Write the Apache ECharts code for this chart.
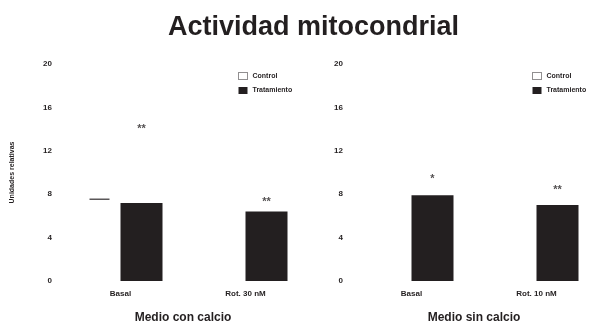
<!DOCTYPE html>
<html>
<head>
<meta charset="utf-8">
<script src="https://cdn.jsdelivr.net/npm/echarts@6/dist/echarts.min.js"></script>
<style>
  html, body { margin: 0; padding: 0; background: #fff; }
  #chart { width: 611px; height: 329px; }
</style>
</head>
<body>
<div id="chart"></div>
<script>
// data
const categoriesCon = ['Basal', 'Rot. 30 nM'];
const categoriesSin = ['Basal', 'Rot. 10 nM'];
const seriesNames = ['Control', 'Tratamiento'];
const yTicks = [0, 4, 8, 12, 16, 20];

const controlCon = [7.5, 8.5];
const treatedCon = [7.2, 6.4];
const controlSin = [9.6, 10.6];
const treatedSin = [7.9, 7.0];

// visible error caps on the control bars
const capsCon = [7.5, null];

// significance marks (value above the black bar)
const marksCon = [14.0, 7.3];
const marksSin = [9.4, 8.4];
const marksText = [['**', '**'], ['*', '**']];

const ink = '#231f20';
const font = 'Liberation Sans, Arial, sans-serif';

const chart = echarts.init(document.getElementById('chart'));

function yAxis(gridIndex, name) {
  return {
    gridIndex: gridIndex,
    type: 'value',
    min: yTicks[0],
    max: yTicks[yTicks.length - 1],
    interval: 4,
    name: name,
    nameLocation: 'middle',
    nameGap: 42,
    nameTextStyle: { color: ink, fontFamily: font, fontSize: 7, fontWeight: 'bold' },
    axisLine: { show: false },
    axisTick: { show: false },
    splitLine: { show: false },
    axisLabel: { color: ink, fontFamily: font, fontSize: 8, fontWeight: 'bold', margin: 6 }
  };
}

function xAxis(gridIndex, cats, name) {
  return {
    gridIndex: gridIndex,
    type: 'category',
    data: cats,
    name: name,
    nameLocation: 'middle',
    nameGap: 31,
    nameTextStyle: { color: ink, fontFamily: font, fontSize: 12, fontWeight: 'bold' },
    axisLine: { show: false },
    axisTick: { show: false },
    axisLabel: { color: ink, fontFamily: font, fontSize: 8, fontWeight: 'bold', margin: 9 }
  };
}

function bars(name, data, idx, color) {
  return {
    name: name,
    type: 'bar',
    xAxisIndex: idx,
    yAxisIndex: idx,
    data: data,
    barWidth: 42,
    barGap: '0%',
    itemStyle: { color: color },
    silent: true
  };
}

function marks(data, idx, texts) {
  return {
    type: 'scatter',
    xAxisIndex: idx,
    yAxisIndex: idx,
    symbolSize: 0,
    data: data,
    silent: true,
    label: {
      show: true,
      position: 'inside',
      offset: [21, 0],
      formatter: p => texts[p.dataIndex],
      color: ink,
      fontFamily: font,
      fontSize: 11,
      fontWeight: 'bold'
    }
  };
}

function caps(data, idx) {
  return {
    type: 'custom',
    xAxisIndex: idx,
    yAxisIndex: idx,
    silent: true,
    data: data.map((v, i) => [i, v]),
    renderItem: (params, api) => {
      if (api.value(1) == null || isNaN(api.value(1))) return null;
      const p = api.coord([api.value(0), api.value(1)]);
      return {
        type: 'line',
        shape: { x1: p[0] - 31, y1: p[1], x2: p[0] - 11, y2: p[1] },
        style: { stroke: ink, lineWidth: 2 }
      };
    }
  };
}

const legendStyle = {
  orient: 'vertical',
  itemWidth: 9,
  itemHeight: 7,
  itemGap: 7,
  icon: 'rect',
  data: [
    { name: seriesNames[0], itemStyle: { color: '#fff', borderColor: ink, borderWidth: 1, borderType: 'dotted' } },
    { name: seriesNames[1] }
  ],
  textStyle: { color: ink, fontFamily: font, fontSize: 7, fontWeight: 'bold' }
};

chart.setOption({
  animation: false,
  title: {
    text: 'Actividad mitocondrial',
    left: 163,
    top: 9,
    textStyle: { color: ink, fontFamily: font, fontSize: 27, fontWeight: 'bold' }
  },
  legend: [
    Object.assign({ left: 233, top: 67 }, legendStyle),
    Object.assign({ left: 527, top: 67 }, legendStyle)
  ],
  grid: [
    { left: 58, right: 303, top: 64, bottom: 45 },
    { left: 349, right: 12, top: 64, bottom: 45 }
  ],
  xAxis: [
    xAxis(0, categoriesCon, 'Medio con calcio'),
    xAxis(1, categoriesSin, 'Medio sin calcio')
  ],
  yAxis: [
    yAxis(0, 'Unidades relativas'),
    yAxis(1, '')
  ],
  series: [
    bars(seriesNames[0], controlCon, 0, '#ffffff'),
    bars(seriesNames[1], treatedCon, 0, ink),
    bars(seriesNames[0], controlSin, 1, '#ffffff'),
    bars(seriesNames[1], treatedSin, 1, ink),
    caps(capsCon, 0),
    marks(marksCon, 0, marksText[0]),
    marks(marksSin, 1, marksText[1])
  ]
});
</script>
</body>
</html>
